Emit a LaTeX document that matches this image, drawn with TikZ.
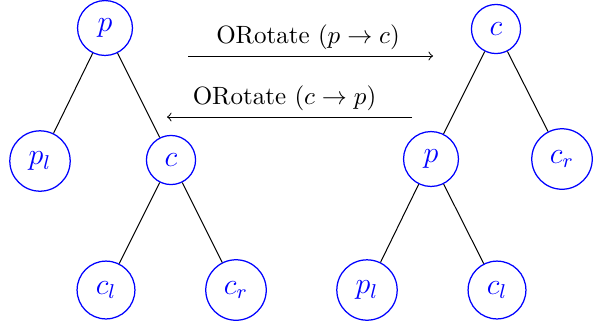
\documentclass[tikz,border=0pt]{standalone}
\begin{document}
\begin{tikzpicture}[x=0.4pt,y=-0.4pt,
  tnode/.style={circle,draw=blue,text=blue,line width=0.5pt,inner sep=4.4pt,font=\large},
  edge/.style={draw=black,line width=0.4pt},
  rot/.style={draw=black,line width=0.4pt,->}]
\useasboundingbox (0,0) rectangle (604,322);
% left tree
\node[tnode] (p) at (105,28) {$p$};
\node[tnode] (pl) at (40,161) {$p_l$};
\node[tnode] (c) at (171,160) {$c$};
\node[tnode] (cl) at (106,290) {$c_l$};
\node[tnode] (cr) at (236,290) {$c_r$};
\draw[edge] (p) -- (pl);
\draw[edge] (p) -- (c);
\draw[edge] (c) -- (cl);
\draw[edge] (c) -- (cr);
% right tree
\node[tnode] (c2) at (496,29) {$c$};
\node[tnode] (p2) at (431,159) {$p$};
\node[tnode] (cr2) at (562,159) {$c_r$};
\node[tnode] (pl2) at (367,290) {$p_l$};
\node[tnode] (cl2) at (497,290) {$c_l$};
\draw[edge] (c2) -- (p2);
\draw[edge] (c2) -- (cr2);
\draw[edge] (p2) -- (pl2);
\draw[edge] (p2) -- (cl2);
% arrows
\coordinate (a1) at (188,56);
\coordinate (a2) at (433,56);
\coordinate (b1) at (412,117);
\coordinate (b2) at (167,117);
\draw[rot] (a1) -- node[above,inner sep=2.5pt,xshift=-1pt] (la) {ORotate ($p \rightarrow c$)} (a2);
\draw[rot] (b1) -- node[above,inner sep=2.5pt,xshift=-2pt] (lb) {ORotate ($c \rightarrow p$)} (b2);
\end{tikzpicture}
\end{document}
